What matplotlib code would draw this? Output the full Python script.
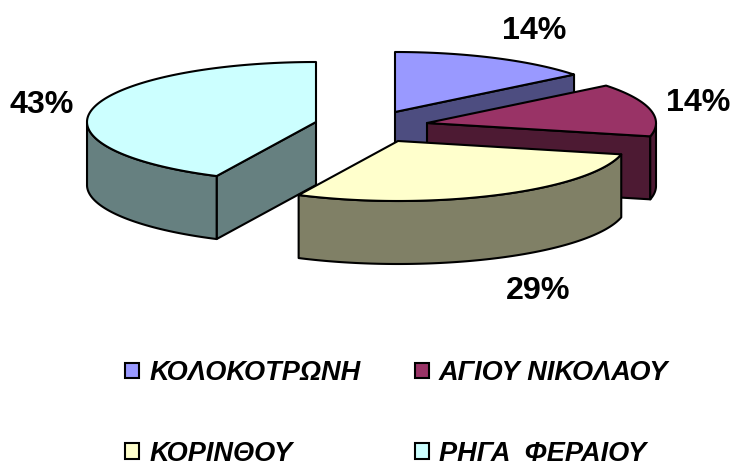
import numpy as np
import matplotlib
matplotlib.use("Agg")
import matplotlib.pyplot as plt
from matplotlib.patches import Polygon, Patch

# Data
categories = ["ΚΟΛΟΚΟΤΡΩΝΗ", "ΑΓΙΟΥ ΝΙΚΟΛΑΟΥ", "ΚΟΡΙΝΘΟΥ", "ΡΗΓΑ  ΦΕΡΑΙΟΥ"]
values = [1, 1, 2, 3]

# Style
top_colors = ["#9999FF", "#993366", "#FFFFCC", "#CCFFFF"]
side_colors = ["#4D4D80", "#4D1A33", "#808066", "#668080"]
centers = [(395, 112), (427, 123), (398, 141), (316, 122)]
label_pos = [(534.5, 31), (698, 103), (538, 291), (41.5, 105)]
draw_order = [0, 1, 3, 2]
legend_order = [0, 2, 1, 3]  # matplotlib fills columns first
RX, RY, DEPTH = 229, 60, 63
EDGE = "black"
LW = 1.5

plt.rcParams["font.family"] = ["Liberation Sans", "DejaVu Sans"]
fig = plt.figure(figsize=(7.4, 4.72), dpi=100, facecolor="white")
ax = fig.add_axes([0, 0, 1, 1])
ax.set_xlim(0, 740)
ax.set_ylim(472, 0)
ax.axis("off")

total = sum(values)
edges = np.cumsum([0] + values) / total * 2 * np.pi


def rim(c, a):
    return np.column_stack([c[0] + RX * np.sin(a), c[1] - RY * np.cos(a)])


def face(points, color, z):
    ax.add_patch(Polygon(points, closed=True, facecolor=color, edgecolor=EDGE,
                         linewidth=LW, joinstyle="round", zorder=z))


for z, i in enumerate(draw_order):
    c = np.array(centers[i], float)
    a0, a1 = edges[i], edges[i + 1]
    ang = np.linspace(a0, a1, 120)
    arc = rim(c, ang)
    down = np.array([0, DEPTH])
    base = 10 * z
    # radial walls that face the viewer
    for a in (a0, a1):
        p = rim(c, np.array([a]))[0]
        facing = (a == a1 and np.sin(a) > 0 and a < np.pi) or (a == a0 and a > np.pi)
        if facing:
            face([c, p, p + down, c + down], side_colors[i], base + 1)
    # outer curved wall: lower half of the ellipse
    front = ang[(ang >= np.pi / 2) & (ang <= 3 * np.pi / 2)]
    if len(front) > 1:
        r = rim(c, front)
        face(np.vstack([r, (r + down)[::-1]]), side_colors[i], base + 2)
    # top
    face(np.vstack([c, arc]), top_colors[i], base + 3)

for v, (x, y) in zip(values, label_pos):
    ax.text(x, y, f"{round(v / total * 100)}%", ha="center", va="center",
            fontsize=23.2, fontweight="bold", color="black", zorder=100)

handles = [Patch(facecolor=col, edgecolor="black", linewidth=1.5) for col in top_colors]
ax.legend([handles[k] for k in legend_order], [categories[k] for k in legend_order],
          ncol=2, frameon=False,
          loc="upper left", bbox_to_anchor=(125, 360),
          bbox_transform=ax.transData,
          prop={"family": "Liberation Sans", "weight": "bold", "style": "italic", "size": 19.5},
          handlelength=0.52, handleheight=0.52, handletextpad=0.37,
          columnspacing=2.0, labelspacing=2.03, borderpad=0, borderaxespad=0)

fig.savefig("out.png", dpi=100, facecolor="white")
